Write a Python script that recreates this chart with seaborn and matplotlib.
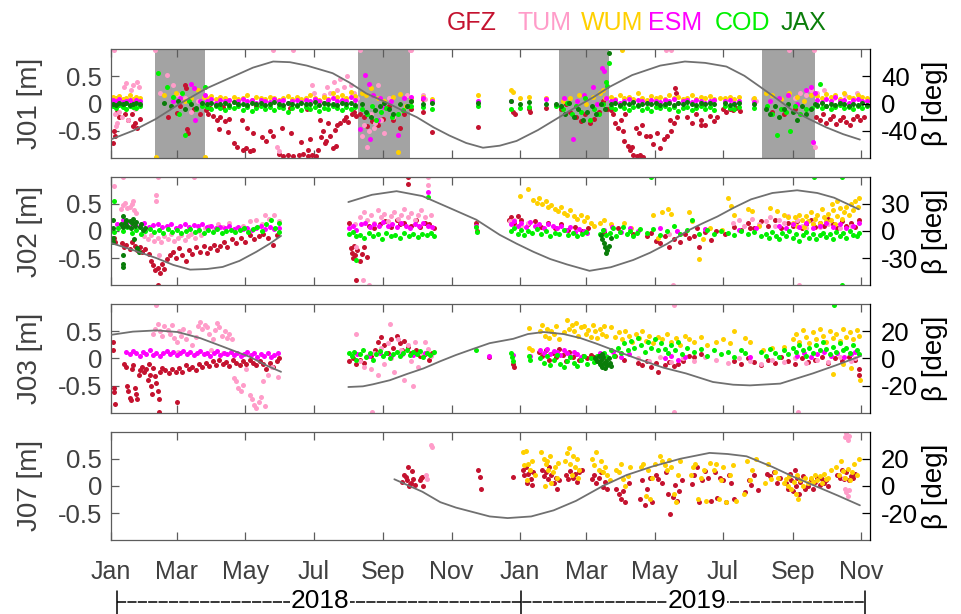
import numpy as np
import pandas as pd
import matplotlib
matplotlib.use("Agg")
import matplotlib.pyplot as plt
import matplotlib.dates as mdates
from matplotlib.lines import Line2D
import seaborn as sns

# ---------------------------------------------------------------------------
# Orbit differences of QZSS satellites per analysis centre (metres), plotted
# against days since 2018-01-01, with the sun elevation angle beta (degrees).
# ---------------------------------------------------------------------------
START = pd.Timestamp("2018-01-01")
X_END_DAY = 677

CENTRES = ["GFZ", "TUM", "WUM", "ESM", "COD", "JAX"]
COLOURS = {"GFZ": "#c4122f", "TUM": "#ff9cc9", "WUM": "#ffd000",
           "ESM": "#ff00ff", "COD": "#00f000", "JAX": "#0a7d0a"}
SATELLITES = ["J01", "J02", "J03", "J07"]
BETA_LIMIT = {"J01": 80, "J02": 60, "J03": 40, "J07": 40}
BETA_TICKS = {"J01": [-40, 0, 40], "J02": [-30, 0, 30],
              "J03": [-20, 0, 20], "J07": [-20, 0, 20]}

# eclipse seasons of J01 (day ranges)
J01_ECLIPSE = [(39.5, 84), (221, 267), (400, 444), (581, 628)]

# ---------------------------- J01 -----------------------------------------
J01_BAND_DAYS = [
    2, 5, 8, 11, 14, 17, 20, 23, 26,
    86, 90, 94, 98, 102, 106, 110, 114, 118, 122, 126, 130, 134, 138, 142, 146, 150,
    154, 158, 162, 166, 170, 174, 178, 182, 186, 190, 194, 198, 202, 206, 210, 214, 218,
    446, 450, 454, 458, 462, 466, 470, 474, 478, 482, 486, 490, 494, 498, 502, 506, 510,
    514, 518, 522, 526, 530, 534, 538,
    548, 552, 556, 560, 574,
    630, 634, 638, 642, 646, 650, 654, 658, 662, 666, 670, 674,
]
J01_WUM_BAND = [
    .12, .10, .14, .08, .11, .15, .09, .13, .10,
    .10, .14, .08, .12, .10, .06, .13, .09, .11, .15, .07, .12, .10, .08, .13, .11, .06,
    .10, .14, .09, .12, .08, .11, .15, .10, .07, .13, .09, .20, .12, .16, .10, .22, .14,
    .12, .08, .15, .10, .13, .09, .20, .11, .07, .14, .10, .12, .08, .16, .10, .13, .09,
    .11, .15, .08, .12, .10, .14, .09,
    .10, .13, .08, .12, .10,
    .14, .10, .18, .12, .15, .09, .20, .13, .11, .16, .12, .10,
]
J01_ESM_BAND = [
    .06, .04, .08, .03, .05, .07, .02, .06, .04,
    .05, .08, .02, .06, .04, .07, .03, .05, .09, .04, .06, .02, .07, .05, .03, .08, .04,
    .06, .02, .05, .07, .03, .06, .04, .08, .05, .02, .06, .10, .04, .07, .05, .12, .06,
    .04, .07, .02, .05, .08, .03, .06, .04, .02, .07, .05, .03, .06, .04, .08, .02, .05,
    .07, .03, .06, .04, .02, .05, .07,
    .04, .06, .02, .05, .03,
    .06, .03, .08, .05, .12, .04, .07, .02, .06, .09, .04, .05,
]
J01_JAX_BAND = [
    .00, -.02, .02, -.01, .01, -.03, .00, .02, -.01,
    -.01, .02, -.03, .00, .01, -.02, .03, -.01, .00, -.03, .02, -.01, .01, -.02, .00, .03, -.01,
    -.03, .01, .00, -.02, .02, -.01, .00, .03, -.02, .01, -.01, .00, -.03, .02, -.01, .01, -.02,
    .00, .02, -.03, .01, -.01, .03, -.02, .00, .02, -.01, .01, -.03, .00, .02, -.02, .01, -.01,
    .03, .00, -.02, .01, -.01, .02, .00,
    .01, -.02, .00, .02, -.01,
    -.02, .01, -.04, .00, -.03, .02, -.01, -.05, .00, -.02, .01, -.03,
]
J01_COD_BAND = [
    -.05, -.08, -.03, -.07, -.10, -.04, -.06, -.09, -.05,
    -.07, -.10, -.04, -.08, -.12, -.06, -.09, -.05, -.11, -.07, -.13, -.08, -.05, -.10, -.07, -.12, -.06,
    -.09, -.15, -.08, -.05, -.11, -.07, -.10, -.06, -.13, -.08, -.10, -.05, -.09, -.12, -.07, -.10, -.06,
    -.06, -.10, -.04, -.08, -.12, -.07, -.05, -.11, -.08, -.14, -.06, -.09, -.05, -.10, -.07, -.13, -.08,
    -.06, -.11, -.09, -.05, -.10, -.07, -.12,
    -.05, -.08, -.10, -.06, -.09,
    -.05, -.09, -.04, -.10, -.07, -.03, -.08, -.06, -.10, -.05, -.08, -.04,
]
J01_WUM_EXTRA = [(48, .15), (58, .2), (66, .05), (72, .1), (78, .25), (83, .12), (41, -.99), (84, -.99),
                 (224, .2), (228, .15), (232, .28), (238, .1), (244, .05), (252, .12), (258, .18), (263, -.05),
                 (256, -.9), (268, .1), (279, .12), (287, .08), (328, .15), (357, .25), (359, .22), (365, .1),
                 (373, .12), (388, .1), (403, .05), (410, .1), (418, .15), (424, .0), (430, .12), (436, .2),
                 (441, .1), (439, .25), (584, .2), (590, .15), (598, .08), (605, .2), (612, .12), (618, .05),
                 (624, .15), (543, .1), (456, .99)]
J01_ESM_EXTRA = [(56, .05), (62, .1), (72, .36), (74, .28), (75, -.3), (80, .05), (84, .15), (222, -.47),
                 (227, .53), (230, .37), (231, -.66), (234, .15), (238, -.3), (240, .1), (244, -.06), (250, .05),
                 (256, -.57), (262, .1), (268, .12), (279, .1), (287, .05), (328, .05), (357, .05), (388, .08),
                 (404, .1), (412, -.65), (416, .05), (422, .15), (430, .3), (434, .0), (438, .66), (440, .6),
                 (442, .1), (588, .05), (596, .1), (604, .15), (612, .0), (620, .25), (624, .3), (626, -.7),
                 (628, .2)]
J01_JAX_EXTRA = [(48, .02), (54, -.05), (60, .05), (66, -.1), (72, .0), (76, -.08), (82, .02), (224, .0),
                 (228, -.15), (232, -.25), (236, -.12), (240, -.05), (244, .02), (248, -.1), (252, -.2),
                 (258, .0), (264, -.05), (268, .05), (279, .0), (287, .02), (328, .02), (357, .05), (365, .0),
                 (373, .03), (388, .0), (397, .0), (402, -.05), (405, -.2), (409, .02), (413, -.25), (417, -.1),
                 (421, -.3), (425, -.15), (429, -.05), (433, -.2), (437, .0), (441, -.1), (444, .93), (584, -.1),
                 (588, -.2), (592, -.05), (596, -.25), (600, -.1), (604, .0), (608, -.15), (612, -.3),
                 (616, -.05), (620, -.2), (624, -.1), (628, .0)]
J01_COD_EXTRA = [(42, .56), (50, .3), (56, .12), (61, -.2), (64, .2), (66, -.57), (70, .05), (76, -.1),
                 (84, .3), (82, -.05), (224, -.1), (229, -.2), (233, -.05), (237, -.3), (241, -.15), (246, -.08),
                 (251, -.25), (256, -.2), (261, -.12), (266, -.05), (268, -.05), (279, -.06), (287, -.1),
                 (328, -.05), (357, -.1), (365, -.08), (373, -.06), (397, -.05), (403, -.1), (407, .02),
                 (411, -.2), (415, -.05), (419, -.15), (423, .1), (427, -.3), (431, -.1), (435, -.2), (439, .0),
                 (442, .4), (444, .75), (443, .33), (585, -.05), (590, -.2), (594, -.58), (598, -.1),
                 (602, -.15), (606, -.5), (610, -.05), (615, -.2), (620, -.1), (625, -.08), (632, .37)]
J01_TUM = [(3, .99), (4, -.2), (5, -.42), (6, -.35), (8, -.15), (10, -.25), (12, .3), (14, .38), (16, -.3),
           (18, .25), (20, .35), (22, -.1), (24, .4), (25, .3), (40, .99), (44, .2), (50, .53), (56, .35),
           (60, .15), (66, .1), (72, -.15), (78, .05), (148, -.8), (150, -.88), (145, .99), (163, .99),
           (180, .35), (181, .2), (187, .05), (190, .15), (193, .3), (196, .2), (199, .4), (202, .25),
           (205, .45), (208, .3), (211, .5), (214, .35), (217, .2), (220, .1), (200, .1), (206, .05),
           (222, .99), (224, -.6), (226, -.4), (229, -.8), (230, -.5), (232, -.2), (235, -.45), (236, -.35),
           (238, .35), (241, -.3), (244, -.55), (248, .1), (252, -.25), (258, .0), (264, .15), (267, .99),
           (268, .99), (279, .15), (280, .08), (495, .99), (500, .99), (573, .08), (575, .05), (605, .99),
           (610, .1), (615, .2), (620, .15), (624, .25), (626, -.72), (628, -.8), (627, .99), (630, .2),
           (636, .25), (645, .1), (655, .15), (665, .2)]
J01_GFZ = [(2, -.72), (3, -.5), (4, -.6), (6, -.15), (8, -.25), (11, -.05), (13, -.2), (16, -.3), (19, -.2),
           (20, -.42), (22, -.35), (24, -.45), (26, -.28),
           (51, -.25), (59, -.17), (62, -.05), (66, .35), (67, .28), (68, -.47), (69, -.55), (74, -.1), (80, -.2),
           (85, -.12), (87, -.2), (89, -.08), (91, -.22), (95, -.3), (97, -.47), (98, -.25), (100, -.06),
           (102, -.32), (105, -.53), (106, -.28), (110, -.72), (113, -.8), (117, -.3), (118, -.86), (121, -.82),
           (122, -.45), (124, -.88), (127, -.85), (127, -.55), (130, -.05), (135, -.62), (139, -.68), (142, -.5),
           (145, -.6), (150, -.93), (153, -.45), (154, -.96), (158, -.94), (160, -.08), (161, -.55), (163, -.97),
           (168, -.95), (170, -.7), (172, -.93), (175, -.1), (176, -.96), (176, -.85), (178, -.65), (180, -.94),
           (183, -.97), (185, -.85), (187, -.3), (188, -.62), (189, -.5), (191, -.72), (192, -.68), (194, -.35),
           (196, -.6), (198, -.82), (200, -.48), (201, -.78), (202, -.4), (205, -.36), (208, -.3), (210, -.25),
           (212, -.33), (215, -.2), (217, -.15), (219, -.22),
           (222, -.2), (226, -.25), (229, -.42), (233, -.32), (238, -.4), (243, -.28), (248, -.05), (252, -.3),
           (258, -.45), (262, -.2),
           (268, .05), (268, -.1), (279, .08), (279, -.15), (287, -.53), (328, -.44), (359, -.15), (361, -.2),
           (373, -.1), (374, -.16), (388, -.08),
           (402, -.1), (406, .0), (410, -.15), (415, -.25), (419, -.32), (423, -.2), (427, -.35), (431, -.28),
           (435, -.15), (439, .05), (443, -.1),
           (446, -.12), (448, -.2), (450, -.35), (452, -.45), (455, -.3), (457, -.5), (458, -.68), (459, -.2),
           (461, -.78), (463, -.85), (465, -.8), (466, -.95), (468, -.45), (469, -.97), (471, -.55), (472, -.95),
           (474, -.4), (475, -.98), (477, -.6), (481, -.6), (484, -.75), (487, -.55), (490, -.82), (493, -.65),
           (496, -.6), (499, -.3), (500, -.5), (502, -.35), (503, .28), (504, .2), (505, -.25),
           (514, -.25), (518, -.35), (522, -.2), (526, -.3), (526, -.4), (530, -.4), (534, -.22), (538, -.32),
           (541, -.25), (546, -.1), (549, -.15), (552, -.1), (555, -.12), (558, -.08), (561, -.14),
           (590, -.15), (600, -.2), (610, -.1),
           (629, -.25), (632, -.3), (635, -.2), (638, -.35), (641, -.28), (644, -.22), (647, -.38), (650, -.3),
           (653, -.25), (656, -.33), (659, -.4), (662, -.28), (665, -.22), (668, -.3), (672, -.25)]

# ---------------------------- J02 -----------------------------------------
J02_GFZ = [(3, -.12), (4, -.2), (10, -.22), (12, -.3), (14, -.25), (17, -.33), (19, -.2), (22, -.28), (24, -.35),
           (26, -.3), (28, -.38), (31, -.33), (34, -.42), (36, -.55), (38, -.62), (40, -.72), (42, -.68), (44, -.78),
           (46, -.6), (48, -.7), (50, -.52), (42, -.99), (53, -.45), (56, -.38), (58, -.5), (61, -.32), (64, -.45),
           (67, -.55), (70, -.35), (73, -.42), (76, -.3), (80, -.38), (83, -.28), (86, -.4), (89, -.32), (92, -.25),
           (95, -.35), (98, -.28), (101, -.2), (104, -.3), (108, -.15), (112, -.22), (116, -.12), (120, -.2),
           (124, -.08), (128, -.15), (132, -.1), (136, -.05), (140, -.12), (145, -.25), (148, -.08),
           (213, .15), (214, -.32), (215, -.4), (216, -.5), (217, -.28), (218, -.45), (219, -.91), (220, -.35),
           (222, -.55), (224, -.42), (226, -.3), (229, -.48), (230, .1), (235, .05), (240, .12), (245, .18),
           (250, .08), (255, .2), (258, .12), (262, .15), (265, .99), (265, .86), (268, .1), (272, .2), (276, .08),
           (280, .15), (284, .12), (288, .05), (326, .15), (327, .0),
           (355, .2), (357, .25), (360, .15), (363, .27), (366, .2), (372, .12), (378, .18), (384, .08), (390, .15),
           (396, .05), (402, .12), (408, .02), (414, .08), (420, .0), (426, .05),
           (440, -.02), (452, .05), (466, -.05), (478, -.1), (482, -.04), (486, -.18), (490, -.23), (494, -.1),
           (498, -.29), (502, -.15), (508, -.2), (512, -.06), (516, -.12), (520, -.1), (523, .05), (525, -.29),
           (530, -.02), (535, -.16), (540, .0), (548, -.05), (556, .08), (562, .02), (570, .05),
           (568, .15), (574, .05), (580, .18), (586, .1), (592, .2), (598, .06), (604, .15), (608, .1), (612, .18),
           (616, .05), (620, .12), (624, .2), (628, .08), (632, .15), (636, .1), (640, .22), (644, .12), (648, .05),
           (652, .18), (656, .1), (660, .15), (664, .08), (667, .2)]
J02_TUM = [(3, .83), (11, .99), (42, .99), (74, .99), (9, .4), (11, .48), (13, .52), (15, .42), (17, .45), (19, .5),
           (21, .38), (23, .33), (20, .55), (41, .67), (41, .55), (43, -.45),
           (30, -.1), (33, -.15), (36, -.08), (39, -.18), (42, -.12), (45, -.2), (48, -.1), (51, -.15), (54, -.06),
           (57, -.18), (60, -.12), (63, -.08), (66, -.16), (69, -.1), (72, -.05), (75, -.13), (78, .0), (81, -.08),
           (84, .05), (88, .1), (92, .02), (96, .12), (100, .08), (106, .15), (112, .05), (118, .1), (124, .18),
           (130, .2), (135, .12), (138, .3), (141, .22), (146, .3), (150, .18),
           (218, .12), (222, .25), (226, .35), (229, .2), (232, .3), (235, .15), (238, .38), (241, .25), (244, .32),
           (247, .18), (250, .28), (253, .35), (256, .22), (259, .3), (262, .4), (265, .26), (268, .34), (271, .2),
           (274, .3), (277, .38), (280, .25), (283, .84), (283, .99), (286, .3), (225, -.91), (230, -.99), (219, -.3),
           (356, .18), (360, .2), (366, .1), (372, .15),
           (498, -.05), (505, .0), (501, -.99), (614, -.99),
           (555, .15), (560, .2), (565, .1), (572, .22), (578, .12), (584, .18), (588, .25), (592, .1), (596, .2),
           (600, .15), (604, .28), (608, .12), (612, .2), (616, .1), (620, .05), (626, .15), (632, .08), (640, .12),
           (650, .05), (660, .1)]
J02_WUM = [(365, .65), (372, .77), (377, .58), (380, .52), (382, .6), (385, .5), (388, .55), (390, .45), (393, .48),
           (396, .4), (399, .36), (402, .44), (404, .33), (407, .3), (410, .38), (413, .27), (416, .22), (419, .3),
           (422, .18), (425, .25), (428, .15), (431, .1),
           (436, .15), (440, .2), (446, .12), (458, .15), (464, .05), (484, .3), (488, -.12), (492, .35), (497, .4),
           (500, .32), (516, .35), (518, .18), (525, -.52), (528, -.15), (534, .05), (545, .02), (550, .6),
           (553, .46), (556, .3), (568, .4), (572, .36), (578, .1), (588, .43), (594, .36), (600, .3), (604, .25),
           (608, .15), (610, .25), (612, .1), (614, .3), (616, .2), (618, .08), (620, .28), (622, .18), (624, .35),
           (626, .12), (628, .22), (630, .3), (632, .15), (634, .4), (636, .25), (638, .18), (640, .32), (642, .2),
           (643, .5), (644, .38), (646, .12), (648, .28), (648, .55), (650, .42), (652, .22), (654, .35), (656, .45),
           (658, .3), (660, .5), (662, .38), (664, .55), (666, .45), (667, .6)]
J02_ESM = [(6, .12), (10, .1), (11, .2), (14, .15), (18, .08), (22, .12), (26, .1), (30, .14), (34, .08), (38, .11),
           (42, .13), (46, .07), (50, .1), (54, .12), (58, .06), (62, .1), (66, .13), (70, .08), (74, .11), (78, .09),
           (82, .12), (86, .07), (90, .1), (94, .05), (98, .08), (102, .06), (106, .1), (110, .04), (114, .07),
           (118, .03), (122, .06), (126, .02), (130, .05), (134, .09), (138, .04), (142, .08), (146, .03), (150, .06),
           (213, .05), (216, .1), (219, .02), (223, .12), (227, .15), (231, .08), (235, .13), (239, .1), (243, .16),
           (247, .09), (251, .12), (255, .07), (259, .14), (263, .1), (267, .06), (271, .12), (275, .09), (279, .15),
           (283, .72), (283, .1), (287, .08), (326, .1),
           (357, .12), (360, .18), (363, .1), (366, .15), (370, .08), (374, .16), (378, .1), (382, .13), (386, .06),
           (390, .12), (394, .09), (398, .05), (402, .1), (406, .02), (410, .07), (414, -.02), (418, .04), (422, .0),
           (425, -.03),
           (440, .02), (447, .08), (455, -.02), (463, .05), (470, .0), (490, .05), (505, .0), (530, .04), (560, .02),
           (575, .06),
           (596, .1), (602, .05), (608, .12), (614, .08), (620, .14), (626, .06), (632, .1), (638, .15), (644, .08),
           (650, .12), (656, .05), (662, .1), (667, .14)]
J02_COD = [(3, .55), (3, -.02), (7, .05), (11, .0), (15, .08), (19, -.03), (23, .02), (27, -.05), (31, .0), (35, .04),
           (39, -.02), (43, .01), (47, -.04), (51, .03), (55, -.01), (59, .02), (63, -.03), (67, .0), (71, .04),
           (75, -.02), (79, .01), (83, -.04), (87, .02), (91, -.01), (95, .03), (99, -.03), (103, .0), (107, .02),
           (111, -.02), (115, .01), (119, .05), (123, -.02), (127, .03), (131, .08), (135, .0), (139, .12),
           (143, .2), (147, .05), (150, .15), (150, -.02),
           (213, -.05), (216, -.02), (219, -.54), (219, -.1), (222, -.08), (226, -.12), (230, -.03), (234, -.1),
           (238, -.06), (242, -.14), (246, -.04), (250, -.1), (254, -.07), (258, -.12), (262, -.03), (266, -.09),
           (270, -.05), (274, -.11), (278, -.06), (282, -.08), (283, .63), (286, -.04), (288, -.1), (326, .08),
           (327, -.02),
           (357, .0), (360, .05), (363, -.05), (366, .02), (369, -.08), (372, .0), (376, -.04), (380, .03),
           (384, -.06), (388, .0), (392, -.09), (396, -.03), (400, -.06), (404, .01), (408, -.08), (412, -.03),
           (416, -.1), (420, -.05), (424, -.02),
           (436, -.05), (439, .02), (442, -.08), (445, -.03), (448, .05), (451, -.1), (454, -.02), (457, .08),
           (460, -.06), (463, .0), (466, -.09), (469, -.03), (472, .04),
           (478, -.04), (484, .03), (490, -.08), (496, .0), (502, .1), (508, -.05), (514, .02), (518, .2),
           (525, -.05), (532, .02), (538, -.06), (544, .0), (550, -.04), (556, -.08), (562, .0), (568, -.05),
           (574, -.02), (580, -.1),
           (584, -.05), (587, -.12), (590, -.02), (593, -.09), (596, -.15), (599, -.04), (602, -.1), (605, .0),
           (608, -.13), (611, -.06), (614, -.18), (617, -.08), (620, -.02), (623, -.12), (626, -.05), (629, -.15),
           (632, -.08), (635, -.03), (638, -.11), (641, -.06), (644, -.14), (647, -.02), (650, -.09), (653, -.04),
           (656, -.12), (659, .0), (662, -.07), (665, -.1), (667, -.03),
           (482, .99), (627, .99), (652, .99), (652, -.99)]
J02_JAX = [(2, .2), (2, .05), (2, -.12), (2, -.2), (9, .12), (11, .27), (11, .08), (11, -.45), (11, -.6), (11, -.66),
           (13, .15), (14, .2), (15, .1), (17, .18), (18, .05), (19, .14), (20, .22), (21, -.15), (22, .1), (23, .16),
           (24, -.32), (25, -.38), (26, .08), (27, .12), (29, .02), (31, .05),
           (437, -.08), (438, -.15), (440, -.22), (441, -.3), (443, -.35), (444, -.27), (446, -.12), (442, -.4)]

# ---------------------------- J03 -----------------------------------------
J03_GFZ = [(2, .3), (2, .15), (3, -.55), (3, -.62), (4, -.83), (12, -.1), (14, -.15), (15, -.5), (16, -.6), (17, -.72),
           (18, -.77), (19, -.2), (20, -.12), (22, -.55), (23, -.65), (24, -.75), (25, -.3), (26, -.22), (28, -.15),
           (30, -.25), (32, -.2), (33, -.4), (34, -.1), (35, -.3), (36, -.5), (37, -.65), (38, -.18), (40, -.32),
           (41, -.45), (42, -.6), (43, -.75), (43, -.98), (44, -.25), (46, -.18), (49, -.22), (52, -.27), (55, -.2),
           (58, -.24), (59, -.8), (61, -.18), (64, -.25), (67, -.12), (70, -.2), (73, -.15), (76, -.22), (79, -.1),
           (82, -.16), (85, -.08), (88, -.14), (91, -.05), (94, -.12), (97, -.03), (100, -.1), (103, -.06),
           (106, -.13), (109, -.02), (112, -.08), (115, -.12), (118, -.05), (121, -.1), (124, -.03), (127, -.08),
           (130, -.12), (133, -.05), (136, -.1), (139, -.2), (142, -.08), (145, -.15), (148, -.04), (150, .0),
           (213, -.05), (216, .0), (219, -.1), (222, -.03), (226, -.08), (232, .05), (236, .15), (238, .3), (241, .4),
           (244, .25), (247, .1), (250, .35), (252, .2), (255, .42), (258, .28), (260, .15), (262, .32), (265, .22),
           (268, .1), (272, .15), (276, .05), (280, .08), (284, -.03), (287, .1), (337, .03),
           (359, -.1), (360, -.15), (382, .12), (385, .05), (388, .15), (391, -.03), (394, .1), (397, .02), (400, .18),
           (403, .06), (406, -.05), (409, .12), (412, .03), (415, .08), (418, -.02), (421, .05), (425, .0), (428, .07),
           (431, .02), (434, -.04), (438, .03), (442, .0), (450, .05), (458, -.02), (470, -.08), (474, -.12),
           (478, -.05), (482, -.15), (486, -.08), (488, -.25), (494, -.12), (498, -.06), (502, -.14), (506, -.1),
           (510, -.04), (516, .05), (520, .02), (526, .08), (556, -.05), (562, -.1), (568, .0), (574, -.06),
           (580, -.12), (586, -.02), (592, -.08), (598, .02), (604, -.05), (610, -.1), (616, .0), (622, -.06),
           (628, -.03), (634, .02), (640, -.08), (646, .0), (652, -.05), (658, .03), (664, -.02), (667, -.2),
           (667, -.3)]
J03_TUM = [(41, .99), (38, .45), (40, .55), (42, .63), (44, .5), (46, .41), (48, .6), (51, .52), (53, .45), (55, .62),
           (57, .38), (59, .3), (61, .5), (63, .42), (65, .55), (67, .35), (70, .48), (73, .25), (76, .4), (78, .6),
           (80, .68), (82, .55), (84, .62), (86, .58), (88, .45), (91, .35), (93, .53), (95, .66), (97, .58), (99, .42),
           (102, .5), (104, .38), (106, .45), (108, .35), (110, -.35), (112, -.42), (114, -.55), (116, -.6),
           (118, -.48), (121, -.2), (124, -.68), (126, -.75), (128, -.85), (130, -.92), (132, -.8), (134, -.7),
           (136, -.42), (138, -.88), (140, -.3), (144, -.15), (149, -.34), (100, .1), (90, .15), (60, .12),
           (219, .45), (222, -.05), (226, -.15), (229, .05), (232, -.2), (235, .1), (238, -.3), (241, .2), (244, -.1),
           (247, .28), (250, .0), (253, -.25), (256, .35), (259, .15), (262, -.4), (265, .25), (268, -.05), (271, .3),
           (274, -.15), (277, .1), (280, .3), (283, .18), (286, .05), (270, -.5), (233, -.99), (249, .63),
           (502, .99), (502, -.99), (613, -.99), (470, .0), (480, -.04), (490, .02), (500, -.06), (510, .0),
           (520, -.05), (530, .03), (540, -.02), (550, -.08), (560, .0), (570, -.04), (580, -.1), (590, -.02),
           (600, -.06), (610, .0), (620, -.08), (630, -.03), (640, -.06), (650, .02), (660, -.05), (664, .0)]
J03_WUM = [(373, .56), (373, .2), (376, .15), (383, .5), (385, .62), (387, .42), (389, .55), (391, .38), (393, .5),
           (395, .45), (397, .6), (400, .35), (404, .48), (407, .7), (409, .55), (411, .62), (413, .5), (415, .65),
           (417, .42), (419, .58), (422, .6), (424, .45), (426, .52), (428, .4), (430, .62), (432, .5), (434, .38),
           (436, .55), (438, .45), (440, .6), (442, .42), (446, .58), (450, .4), (453, .48), (456, .35), (459, .5),
           (462, .42), (465, .3), (468, .45), (471, .38), (474, .5), (477, .32), (480, .42), (484, .28), (488, .4),
           (492, .35), (496, .45), (500, .3), (504, .38), (508, .25), (512, .42), (516, .35), (520, .3), (526, .4),
           (532, .25), (540, .3), (546, .35), (552, .28), (556, .5), (566, .38), (570, .3), (582, .15), (590, .2),
           (600, .22), (608, .35), (611, .45), (614, .3), (617, .52), (620, .4), (623, .28), (626, .48), (629, .35),
           (632, .55), (635, .42), (638, .3), (641, .5), (644, .38), (644, -.28), (647, .45), (650, .32), (653, .55),
           (656, .4), (659, .48), (662, .35), (665, .52), (667, .42), (668, -.4), (660, -.18), (653, -.1)]
J03_ESM = [(14, .12), (17, .08), (20, .14), (23, .1), (26, .05), (29, .12), (32, .09), (35, .15), (38, .07), (41, .11),
           (44, .04), (47, .1), (50, .13), (53, .08), (56, .12), (59, .06), (62, .1), (65, .14), (68, .09), (71, .12),
           (74, .06), (77, .1), (80, .13), (83, .08), (86, .11), (89, .05), (92, .1), (95, .13), (98, .07), (101, .11),
           (104, .08), (107, .12), (110, .06), (113, .1), (116, .04), (119, .09), (122, .12), (125, .06), (128, .1),
           (131, .03), (134, .08), (137, .05), (140, .1), (143, .02), (146, .07), (149, .1),
           (220, .08), (230, .05), (240, .1), (250, .04), (260, .08), (270, .06), (280, .1), (337, .05),
           (359, .06), (374, .04), (383, .15), (386, .1), (389, .18), (392, .08), (395, .14), (398, .12), (401, .06),
           (404, .16), (407, .1), (410, .05), (413, .12), (416, .08), (419, .03), (436, .1), (442, .05), (448, .12),
           (455, .02), (462, .08), (494, .0), (500, .05), (506, -.03), (512, .02), (570, .02), (612, .05), (618, .1),
           (624, .02), (630, .08), (636, .12), (642, .05), (648, .1), (654, .03), (660, .08), (664, .12)]
J03_COD = [(213, .1), (215, .05), (217, .12), (219, -.02), (222, .08), (225, .15), (228, .03), (231, .1), (234, -.02),
           (237, .08), (240, .13), (243, .05), (246, .1), (249, .0), (252, .08), (255, .12), (258, .04), (261, .1),
           (264, .15), (267, .06), (270, .12), (273, .08), (276, .14), (279, .03), (282, .1), (285, .07), (288, .12),
           (326, .15),
           (357, .1), (358, .02), (359, -.05), (373, .05), (374, -.02), (383, .0), (386, -.08), (389, .05),
           (392, -.12), (395, -.03), (398, .06), (401, -.1), (404, -.15), (407, -.04), (410, .02), (413, -.08),
           (416, -.14), (419, -.02), (422, .05), (425, -.1), (428, .0), (431, -.06), (434, .04), (437, -.12),
           (440, .1), (443, .02), (446, .15), (449, .05), (452, .2), (455, .1), (458, .28), (461, .15), (464, .32),
           (467, .2), (470, .38), (473, .25), (476, .12), (479, .3), (482, .2), (485, .35), (488, .15), (491, .28),
           (494, .18), (497, .1), (500, .25), (503, .15), (506, .3), (509, .08), (514, .2), (520, .12), (526, .18),
           (532, .05), (538, .15), (544, .08), (550, .12), (556, .02), (562, .15), (566, .1), (580, .12), (584, .05),
           (588, .18), (592, .1), (596, .02), (600, .15), (604, .08), (608, .2), (611, .12), (614, .25), (617, .15),
           (620, .05), (623, .2), (626, .1), (629, .25), (632, .15), (635, .3), (638, .18), (641, .08), (644, .22),
           (647, .12), (650, .28), (653, .15), (656, .2), (659, .1), (662, .25), (665, .15), (667, .08), (645, .99)]
J03_JAX = [(432, .0), (434, -.05), (435, .05), (436, -.1), (437, -.02), (438, -.15), (439, .02), (440, -.08),
           (441, -.18), (442, -.05), (443, -.12), (444, .0), (445, -.08), (446, -.14), (438, .08)]

# ---------------------------- J07 -----------------------------------------
J07_GFZ = [(260, .07), (262, .2), (263, .16), (264, .1), (265, .35), (266, .0), (267, .04), (268, .05), (269, .27),
           (270, .13), (271, .02), (276, .1), (277, .14), (278, .17), (279, .0), (328, .3), (329, .16), (330, -.05),
           (359, .17), (368, .3), (369, .2), (370, .35), (371, .05), (372, .22), (374, .28), (375, .12), (376, .02),
           (377, .25), (385, .3), (386, .18), (388, .25), (390, .12), (391, .35), (393, .2), (395, .05), (397, .15),
           (398, -.05), (400, .1), (406, .2), (408, .12), (410, .28), (412, .15), (414, .22), (416, .08), (418, .25),
           (420, .3), (429, .12), (431, .2), (433, .05), (435, .15), (437, .25), (439, -.02), (441, .08), (443, -.05),
           (451, -.05), (453, -.15), (455, -.25), (457, -.1), (459, -.3), (462, .05), (472, -.25), (474, .1),
           (476, -.35), (478, -.05), (481, .15), (483, -.3), (486, .2), (488, .12), (492, .05), (495, .25),
           (497, -.15), (499, -.52), (501, -.2), (503, .02), (505, -.28), (507, -.1), (509, .1), (518, .03), (520, .2),
           (523, .35), (525, -.3), (527, .1), (530, .28), (533, .15), (535, -.28), (539, .25), (541, -.22), (543, .15),
           (546, .1), (549, -.3), (551, .2), (553, .05), (556, -.25), (566, -.12), (569, .1), (571, .02), (574, .2),
           (577, -.08), (585, .22), (588, .18), (591, .25), (594, .05), (597, .15), (602, .05), (604, -.05),
           (606, .22), (607, .1), (608, -.1), (610, .3), (611, .0), (612, .15), (614, -.15), (615, .08), (617, .18),
           (619, -.05), (622, .0), (624, .1), (626, -.05), (628, .08), (630, .15), (632, .02), (634, .12), (636, .05),
           (638, .1), (640, .0), (648, .2), (650, .15), (652, .3), (654, .12), (656, .25), (658, .1), (660, .18),
           (662, .14), (664, .22)]
J07_TUM = [(281, .2), (282, .12), (286, .75), (287, .72), (655, .9), (656, .97), (657, .85), (658, .92), (655, -.05),
           (656, -.12), (657, -.18), (658, -.08), (654, .15)]
J07_WUM = [(368, .62), (370, .65), (369, .38), (372, .4), (374, .3), (376, .45), (378, .2), (371, .1), (384, .62),
           (386, .5), (388, .4), (389, .45), (390, .3), (392, .55), (394, .25), (396, .35), (398, .15), (399, .42),
           (393, .05), (387, .0), (405, .45), (407, .6), (409, .7), (410, .4), (412, .55), (414, .35), (416, .5),
           (418, .3), (411, .2), (417, .15), (429, .5), (431, .38), (433, .62), (435, .3), (437, .45), (439, .25),
           (441, .35), (443, .2), (445, .1), (451, .3), (453, .25), (455, .4), (457, .12), (459, .0), (461, .18),
           (463, .35), (473, .35), (475, .4), (477, -.18), (479, .3), (481, -.25), (483, .15), (485, .4), (490, .55),
           (492, .45), (494, .38), (496, .3), (498, .48), (500, .35), (502, -.15), (504, -.3), (506, .2), (508, .45),
           (517, .2), (519, .35), (521, .4), (524, -.25), (526, .15), (529, .3), (531, -.28), (534, .42), (538, .3),
           (540, .4), (542, -.25), (544, .1), (546, .35), (549, -.3), (552, .2), (555, .38), (558, -.28), (565, -.15),
           (567, .45), (570, .1), (572, .3), (575, .5), (583, .05), (586, .4), (589, .12), (592, .25), (595, .15),
           (600, .05), (602, .12), (604, .0), (605, .18), (607, -.05), (609, .08), (611, -.15), (612, .2),
           (613, -.25), (615, .1), (617, .0), (619, .15), (622, .05), (624, .15), (626, .08), (628, .2), (630, .1),
           (632, .18), (634, .05), (636, .22), (638, .12), (640, .15), (642, .3), (647, .35), (649, .2), (651, .45),
           (653, .28), (655, .15), (657, .32), (659, .1), (661, .25), (663, .4), (665, .2), (667, .5)]

# ---------------------------- beta angle (deg) -----------------------------
BETA = {
    "J01": [[(0, -53), (20, -40), (40, -23), (62, 0), (85, 22), (109, 39.7), (127, 53), (145, 62), (160, 61),
             (175, 56), (198, 44.8), (213, 31), (228, 15), (248, 0), (260, -10), (273, -20), (288, -35),
             (302, -47), (317, -58), (332, -65), (347, -62), (362, -55), (381, -39), (400, -20), (415, -5),
             (430, 9), (445, 24.8), (465, 42), (490, 56), (512, 62), (530, 60), (549, 54.6), (565, 41),
             (579, 24.8), (594, 7), (608, -10), (623, -23), (638, -35), (653, -45), (668, -53)]],
    "J02": [[(1, -13.5), (20, -21), (41, -30), (56, -37.5), (71, -42.7), (86, -42), (100, -39.7), (115, -33),
             (130, -23), (142, -14), (152, -5.4)],
            [(212, 32), (233, 40), (255, 44), (278, 38.6), (304, 24.5), (326, 12.5), (347, -4.3), (362, -14),
             (377, -23), (392, -31), (407, -37), (427, -44), (446, -40), (466, -32), (481, -24), (496, -14.3),
             (514, 0), (527, 8), (541, 16), (556, 26), (571, 35), (590, 42), (612, 45), (630, 42), (645, 36.8),
             (667, 24)]],
    "J03": [[(1, 17.5), (20, 19.8), (41, 20.7), (60, 19.5), (80, 15), (100, 8.8), (112, 5), (124, 1.3),
             (140, -5.5), (152, -9.8)],
            [(212, -21), (225, -20.5), (234, -19), (249, -16), (264, -11.5), (279, -7.3), (294, -2), (308, 2.6),
             (323, 7), (338, 11.3), (359, 14.5), (372, 18), (386, 19.5), (404, 18), (419, 15), (433, 11),
             (448, 6.3), (469, 0), (493, -6.8), (513, -11), (537, -17.3), (555, -19.3), (570, -19.8),
             (597, -18.5), (626, -11), (647, -4.9), (669, 1.9)]],
    "J07": [[(253, 4.9), (278, -4.3), (294, -12), (308, -16), (338, -22.5), (354, -23.7), (375, -22.5),
             (395, -18), (415, -11), (439, 0), (460, 8), (483, 14.3), (508, 20), (534, 24.3), (550, 23.5),
             (567, 21.8), (590, 14), (608, 7), (626, 0.7), (648, -7), (668, -14.3)]],
}


def frame(days, values):
    days = np.asarray(days, dtype=float)
    values = np.asarray(values, dtype=float)
    if len(days) != len(values):
        raise ValueError(f"length mismatch: {len(days)} days vs {len(values)} values")
    return pd.DataFrame({"date": START + pd.to_timedelta(days, unit="D"), "value": values})


def pairs(points):
    d, v = zip(*points)
    return frame(d, v)


POINTS = {
    "J01": {
        "GFZ": [pairs(J01_GFZ)],
        "TUM": [pairs(J01_TUM)],
        "WUM": [frame(J01_BAND_DAYS, J01_WUM_BAND), pairs(J01_WUM_EXTRA)],
        "ESM": [frame(J01_BAND_DAYS, J01_ESM_BAND), pairs(J01_ESM_EXTRA)],
        "COD": [frame(J01_BAND_DAYS, J01_COD_BAND), pairs(J01_COD_EXTRA)],
        "JAX": [frame(J01_BAND_DAYS, J01_JAX_BAND), pairs(J01_JAX_EXTRA)],
    },
    "J02": {"GFZ": [pairs(J02_GFZ)], "TUM": [pairs(J02_TUM)], "WUM": [pairs(J02_WUM)],
            "ESM": [pairs(J02_ESM)], "COD": [pairs(J02_COD)], "JAX": [pairs(J02_JAX)]},
    "J03": {"GFZ": [pairs(J03_GFZ)], "TUM": [pairs(J03_TUM)], "WUM": [pairs(J03_WUM)],
            "ESM": [pairs(J03_ESM)], "COD": [pairs(J03_COD)], "JAX": [pairs(J03_JAX)]},
    "J07": {"GFZ": [pairs(J07_GFZ)], "TUM": [pairs(J07_TUM)], "WUM": [pairs(J07_WUM)]},
}

# ------------------------------- drawing ----------------------------------
sns.set_style("white")
plt.rcParams["font.family"] = ["Liberation Sans", "DejaVu Sans"]

W, H = 962, 614
fig = plt.figure(figsize=(W / 100, H / 100), dpi=100)

LEFT, WIDTH, HEIGHT = 110.5 / W, 759.5 / W, 108.6 / H
TOPS = [49.3, 176.7, 304.2, 431.6]
GREY_TEXT = "#404040"
FRAME = "#5c5c5c"
BETA_LINE = "#707070"

for i, sat in enumerate(SATELLITES):
    bottom = 1 - (TOPS[i] + 108.6) / H
    ax = fig.add_axes([LEFT, bottom, WIDTH, HEIGHT])

    if sat == "J01":
        for a, b in J01_ECLIPSE:
            ax.axvspan(START + pd.Timedelta(days=a), START + pd.Timedelta(days=b),
                       color="#a3a3a3", lw=0, zorder=0)

    for c in CENTRES:
        parts = POINTS[sat].get(c)
        if not parts:
            continue
        df = pd.concat(parts, ignore_index=True)
        sns.scatterplot(data=df, x="date", y="value", color=COLOURS[c], s=13,
                        linewidth=0, ax=ax, legend=False, zorder=2)

    ax.set_ylim(-1, 1)
    ax.set_yticks([-0.5, 0, 0.5])
    ax.set_yticklabels(["-0.5", "0", "0.5"])
    ax.set_xlabel("")
    ax.set_ylabel("")
    ax.xaxis.set_major_locator(mdates.MonthLocator(bymonth=[1, 3, 5, 7, 9, 11]))
    ax.xaxis.set_major_formatter(mdates.DateFormatter("%b"))
    ax.tick_params(axis="x", which="major", direction="in", top=True, bottom=True,
                   length=5.5, width=0.9, color=FRAME, labelsize=18,
                   labelcolor=GREY_TEXT, pad=14, labelbottom=(i == len(SATELLITES) - 1))
    ax.tick_params(axis="x", which="minor", top=False, bottom=False)
    ax.tick_params(axis="y", direction="in", left=True, right=False, length=5.5,
                   width=0.9, color=FRAME, labelsize=18.5, labelcolor=GREY_TEXT, pad=6)
    for name, sp in ax.spines.items():
        sp.set_color(FRAME)
        sp.set_linewidth(0.9)
    ax.spines["right"].set_visible(False)

    axb = ax.twinx()
    for seg in BETA[sat]:
        bdf = pairs(seg)
        sns.lineplot(data=bdf, x="date", y="value", ax=axb, color=BETA_LINE, lw=1.3,
                     estimator=None, sort=False, legend=False)
    lim = BETA_LIMIT[sat]
    axb.set_ylim(-lim, lim)
    axb.set_yticks(BETA_TICKS[sat])
    axb.set_yticklabels([str(t) for t in BETA_TICKS[sat]])
    axb.set_ylabel("")
    axb.set_xlabel("")
    axb.tick_params(axis="y", direction="in", right=True, left=False, length=5.5,
                    width=0.9, color="black", labelsize=18.5, labelcolor="black", pad=8)
    for name in ("left", "top", "bottom"):
        axb.spines[name].set_visible(False)
    axb.spines["right"].set_color("black")
    axb.spines["right"].set_linewidth(0.9)

    ax.set_xlim(START, START + pd.Timedelta(days=X_END_DAY))

    yc = bottom + HEIGHT / 2
    fig.text(30 / W, yc, f"{sat} [m]", rotation=90, ha="center", va="center",
             fontsize=20, color=GREY_TEXT)
    fig.text(935 / W, yc, "\u03b2 [deg]", rotation=90, ha="center", va="center",
             fontsize=20, color="black")

# centre names as coloured text above the panels
LEGEND_X = {"GFZ": 447, "TUM": 518, "WUM": 581, "ESM": 648, "COD": 715, "JAX": 781}
for c in CENTRES:
    fig.text(LEGEND_X[c] / W, 1 - 23 / H, c, ha="left", va="center",
             fontsize=18, color=COLOURS[c])

# year brackets below the month labels
y_line = 1 - 602 / H
fig.add_artist(Line2D([117 / W, 865 / W], [y_line, y_line], color="black",
                      lw=1.1, linestyle=(0, (6, 0.8))))
for xp in (117, 521, 865):
    fig.add_artist(Line2D([xp / W, xp / W], [1 - 591 / H, 0], color="black", lw=1.1))
for label, xp in (("2018", 320), ("2019", 697)):
    fig.text(xp / W, 1 - 613 / H, label, ha="center", va="bottom", fontsize=19,
             family=["Liberation Sans Narrow", "Liberation Sans", "DejaVu Sans"],
             color="black", bbox=dict(facecolor="white", edgecolor="none", pad=0.3))

fig.savefig("out.png", dpi=100)
